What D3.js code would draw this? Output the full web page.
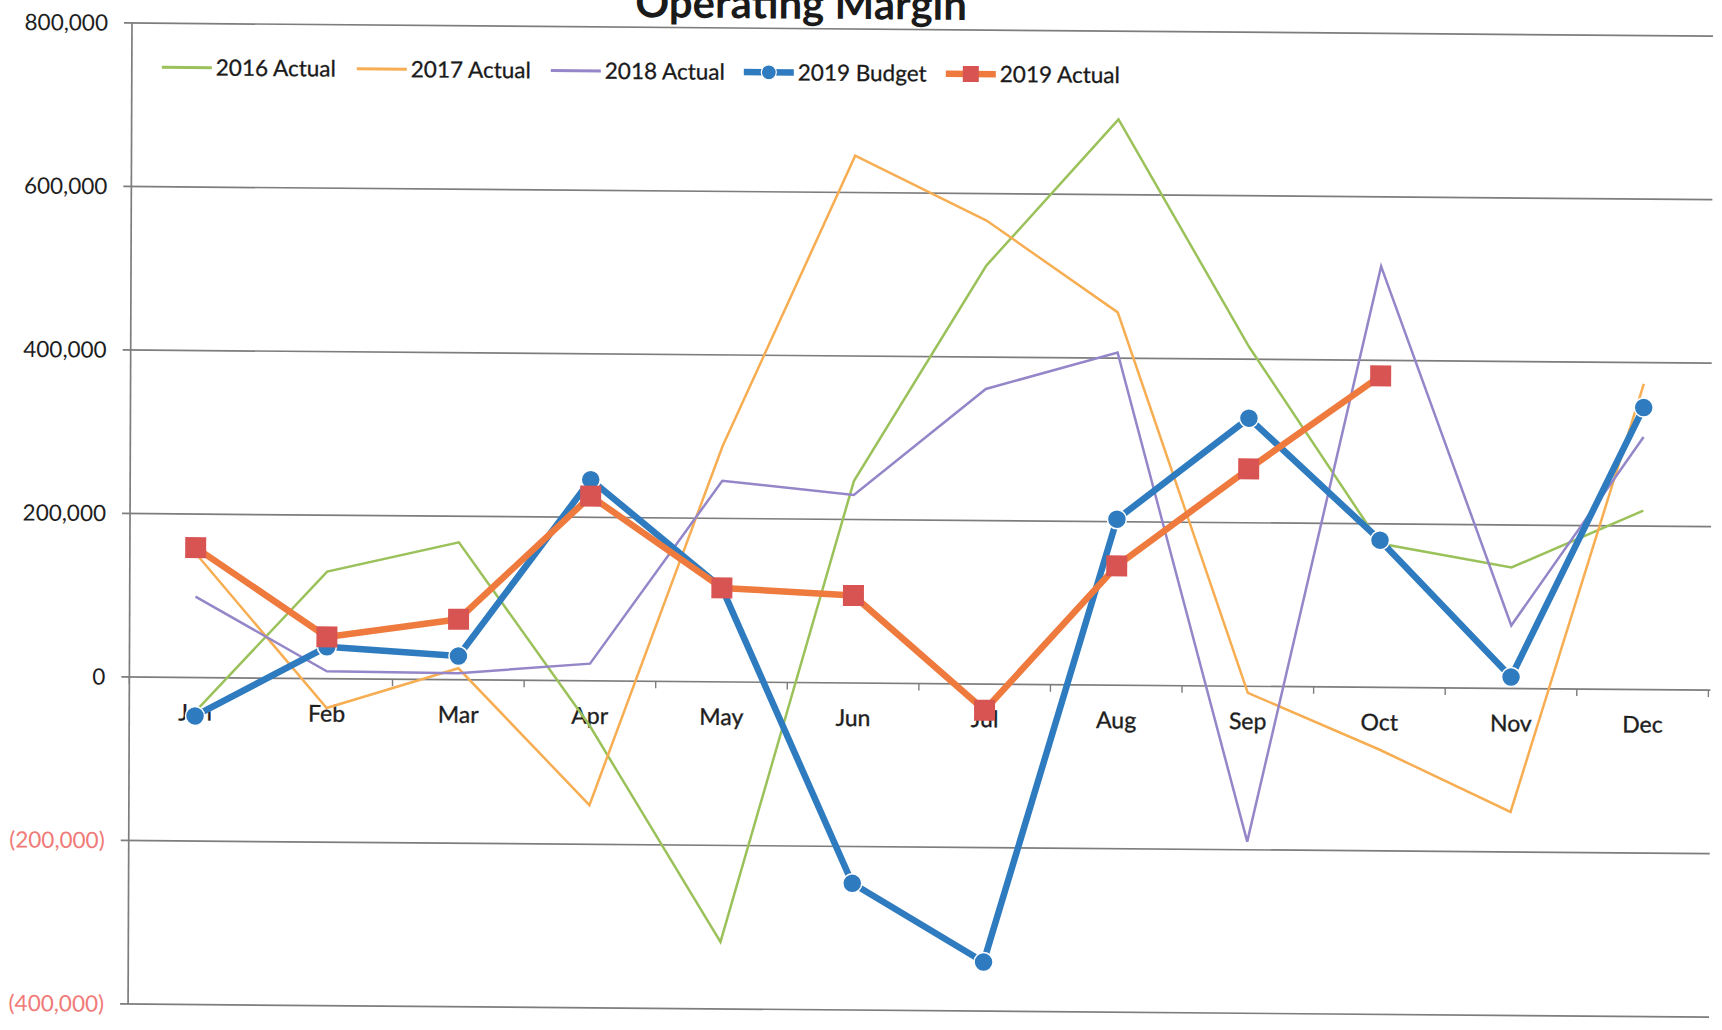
<!DOCTYPE html>
<html>
<head>
<meta charset="utf-8">
<script src="https://cdn.jsdelivr.net/npm/d3@7"></script>
<style>
  html, body { margin: 0; padding: 0; background: #fff; }
  svg { display: block; }
  text { font-family: Lato, "Noto Sans", sans-serif; }
</style>
</head>
<body>
<svg id="chart" width="1722" height="1030"></svg>
<script>
const months = ["Jan","Feb","Mar","Apr","May","Jun","Jul","Aug","Sep","Oct","Nov","Dec"];
const actual2016 = [-42000, 131000, 168000, -55000, -318000, 247000, 512000, 692000, 415000, 176000, 148000, 219000];
const actual2017 = [152000, -36000, 14000, -152000, 288000, 645000, 567000, 456000, -8000, -76000, -151000, 374000];
const actual2018 = [99000, 9000, 8000, 21000, 246000, 230000, 361000, 407000, -190000, 515000, 77000, 309000];
const budget2019 = [-47000, 39000, 29000, 246000, 115000, -245000, -340000, 203000, 328000, 180000, 14000, 345000];
const actual2019 = [159000, 51000, 74000, 226000, 115000, 107000, -32000, 146000, 266000, 381000, null, null];
const yTicks = [800000, 600000, 400000, 200000, 0, -200000, -400000];
const titleText = "Operating Margin";
const seriesNames = ["2016 Actual", "2017 Actual", "2018 Actual", "2019 Budget", "2019 Actual"];

const colors = {
  g16: "#9bc25a", o17: "#f7ad52", p18: "#9486c8", blue: "#2f7bbf", red: "#ee7a3e", redMark: "#d85452"
};

const svg = d3.select("#chart");
const pLeft = 132, pRight = 1711, pTop = 23, pBottom = 1004;

// scanned page is slightly skewed: apply a small skew around the top-left of the plot
const root = svg.append("g")
  .attr("transform", `translate(${pLeft},${pTop}) matrix(1,0.0083,-0.004,1,0,0) translate(${-pLeft},${-pTop})`);

const x = d3.scaleBand().domain(months).range([pLeft, pRight]).padding(0);
const cx = m => x(m) + x.bandwidth() / 2;
const y = d3.scaleLinear().domain([-400000, 800000]).range([pBottom, pTop]);

// gridlines
root.append("g").selectAll("line").data(yTicks).join("line")
  .attr("x1", pLeft - 8).attr("x2", pRight + 2)
  .attr("y1", d => y(d)).attr("y2", d => y(d))
  .attr("stroke", "#7d7d7d").attr("stroke-width", 1.7);

// y axis line
root.append("line").attr("x1", pLeft).attr("x2", pLeft).attr("y1", y(800000)).attr("y2", y(-400000))
  .attr("stroke", "#7d7d7d").attr("stroke-width", 1.7);

// y labels
const fmt = d3.format(",");
root.append("g").selectAll("text").data(yTicks).join("text")
  .attr("x", 108).attr("y", d => y(d)).attr("dy", "0.35em")
  .attr("text-anchor", "end")
  .attr("font-size", 22.5)
  .attr("fill", d => d < 0 ? "#f07a78" : "#1e1e1e")
  .text(d => d < 0 ? "(" + fmt(-d) + ")" : fmt(d));

// x axis tick marks at band boundaries
const bounds = months.map(m => x(m)).concat([pRight]);
root.append("g").selectAll("line").data(bounds).join("line")
  .attr("x1", d => d).attr("x2", d => d)
  .attr("y1", y(0)).attr("y2", y(0) + 7)
  .attr("stroke", "#7d7d7d").attr("stroke-width", 1.4);

// x labels
root.append("g").selectAll("text").data(months).join("text")
  .attr("x", d => cx(d)).attr("y", y(0) + 43)
  .attr("text-anchor", "middle").attr("font-size", 23).attr("fill", "#1e1e1e")
  .attr("stroke", "#1e1e1e").attr("stroke-width", 0.35)
  .text(d => d);

// lines
const line = d3.line().defined(d => d.v !== null).x(d => cx(d.m)).y(d => y(d.v));
const toPts = arr => months.map((m, i) => ({m, v: arr[i]}));

const thin = [
  {data: actual2016, color: colors.g16},
  {data: actual2017, color: colors.o17},
  {data: actual2018, color: colors.p18}
];
thin.forEach(s => {
  root.append("path").datum(toPts(s.data)).attr("d", line)
    .attr("fill", "none").attr("stroke", s.color).attr("stroke-width", 2.5)
    .attr("stroke-linejoin", "miter");
});

// budget
root.append("path").datum(toPts(budget2019)).attr("d", line)
  .attr("fill", "none").attr("stroke", colors.blue).attr("stroke-width", 6.5)
  .attr("stroke-linejoin", "round");
root.append("g").selectAll("circle").data(toPts(budget2019).filter(d => d.v !== null)).join("circle")
  .attr("cx", d => cx(d.m)).attr("cy", d => y(d.v)).attr("r", 9.5)
  .attr("fill", colors.blue).attr("stroke", "#fff").attr("stroke-width", 1.5);

// 2019 actual
root.append("path").datum(toPts(actual2019)).attr("d", line)
  .attr("fill", "none").attr("stroke", colors.red).attr("stroke-width", 6.5)
  .attr("stroke-linejoin", "round");
root.append("g").selectAll("rect").data(toPts(actual2019).filter(d => d.v !== null)).join("rect")
  .attr("x", d => cx(d.m) - 10.5).attr("y", d => y(d.v) - 10.5).attr("width", 21).attr("height", 21)
  .attr("fill", colors.redMark);

// title
root.append("text").attr("x", 801).attr("y", 13).attr("text-anchor", "middle")
  .attr("font-size", 42).attr("font-weight", 700).attr("fill", "#1a1a1a").text(titleText);

// legend
const legY = 67;
const legItems = [
  {name: seriesNames[0], x0: 162, color: colors.g16, w: 3, marker: null},
  {name: seriesNames[1], x0: 357, color: colors.o17, w: 3, marker: null},
  {name: seriesNames[2], x0: 551, color: colors.p18, w: 3, marker: null},
  {name: seriesNames[3], x0: 744, color: colors.blue, w: 6.5, marker: "circle"},
  {name: seriesNames[4], x0: 946, color: colors.red, w: 6.5, marker: "square"}
];
const leg = root.append("g");
legItems.forEach(it => {
  leg.append("line").attr("x1", it.x0).attr("x2", it.x0 + 50).attr("y1", legY).attr("y2", legY)
    .attr("stroke", it.color).attr("stroke-width", it.w);
  if (it.marker === "circle") {
    leg.append("circle").attr("cx", it.x0 + 25).attr("cy", legY).attr("r", 7.5).attr("fill", it.color)
      .attr("stroke", "#fff").attr("stroke-width", 1.2);
  } else if (it.marker === "square") {
    leg.append("rect").attr("x", it.x0 + 17).attr("y", legY - 8).attr("width", 16).attr("height", 16)
      .attr("fill", colors.redMark);
  }
  leg.append("text").attr("x", it.x0 + 54).attr("y", legY).attr("dy", "0.35em")
    .attr("font-size", 22.5).attr("fill", "#1a1a1a")
    .attr("stroke", "#1a1a1a").attr("stroke-width", 0.3)
    .text(it.name);
});
</script>
</body>
</html>
